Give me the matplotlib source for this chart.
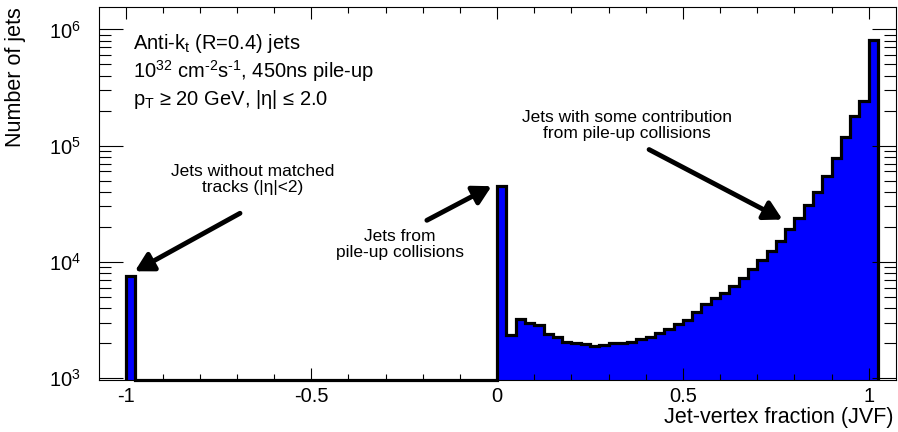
import matplotlib
matplotlib.use("Agg")
import matplotlib.pyplot as plt
import numpy as np
from matplotlib import font_manager
from matplotlib.ticker import MultipleLocator, LogLocator, FuncFormatter

# JVF histogram, bins of 0.025 from -1.0 to 1.025
jvf_min = -1.0
bin_width = 0.025
counts_neg = [7500] + [0] * 39          # bins -1.0 ... -0.025
counts_pos = [
    45000, 2340, 3200, 3000, 2860, 2400, 2240, 2060, 2010, 1960,
    1900, 1920, 1990, 2010, 2060, 2150, 2270, 2430, 2650, 2900,
    3180, 3700, 4330, 4900, 5420, 6180, 7200, 8650, 10350, 12400,
    15200, 19000, 23900, 30900, 40300, 55300, 78000, 119000, 179000, 241000,
    806000,
]                                       # bins 0.0 ... 1.0

info_lines = [
    r"Anti-k$_\mathregular{t}$ (R=0.4) jets",
    r"10$^\mathregular{32}$ cm$^{\text{-2}}$s$^{\text{-1}}$, 450ns pile-up",
    r"p$_\mathregular{T}$ ≥ 20 GeV, |η| ≤ 2.0",
]
note_no_tracks = "Jets without matched\ntracks (|η|<2)"
note_pileup = "Jets from\npile-up collisions"
note_some = "Jets with some contribution\nfrom pile-up collisions"

names = {f.name for f in font_manager.fontManager.ttflist}
base_font = "Liberation Sans" if "Liberation Sans" in names else "DejaVu Sans"

plt.rcParams["font.family"] = [base_font, "DejaVu Sans"]
plt.rcParams["mathtext.fontset"] = "custom"
plt.rcParams["mathtext.rm"] = base_font
plt.rcParams["mathtext.it"] = base_font + ":italic"
plt.rcParams["mathtext.bf"] = base_font + ":bold"
plt.rcParams["axes.unicode_minus"] = False

counts = np.array(counts_neg + counts_pos, dtype=float)
edges = jvf_min + bin_width * np.arange(len(counts) + 1)

y_lo, y_hi = 960, 1.55e6

fig = plt.figure(figsize=(8.98, 4.32), dpi=100)
ax = fig.add_axes([0.110, 0.120, 0.888, 0.863])

draw = np.clip(counts, y_lo, None)
ax.stairs(draw, edges, baseline=y_lo, fill=True, color="#0000ff", lw=0)
ax.stairs(draw, edges, baseline=y_lo, fill=False, color="black", lw=2.3,
          clip_on=False)

ax.set_yscale("log")
ax.set_xlim(-1.072, 1.074)
ax.set_ylim(y_lo, y_hi)

ax.xaxis.set_major_locator(MultipleLocator(0.5))
ax.xaxis.set_minor_locator(MultipleLocator(0.1))
ax.xaxis.set_major_formatter(FuncFormatter(lambda v, p: "%g" % v))
ax.yaxis.set_major_locator(LogLocator(base=10))
ax.yaxis.set_minor_locator(LogLocator(base=10, subs=np.arange(2, 10)))

ax.tick_params(which="both", direction="in", top=True, right=True, width=0.8)
ax.tick_params(axis="x", which="major", length=8.6, labelsize=14.5, pad=5)
ax.tick_params(axis="x", which="minor", length=4.3)
ax.tick_params(axis="y", which="major", length=17, labelsize=14.5, pad=13)
ax.tick_params(axis="y", which="minor", length=8.7)
for s in ax.spines.values():
    s.set_linewidth(0.8)

ax.set_ylabel("Number of jets", fontsize=15.5, loc="top")
ax.yaxis.set_label_coords(-0.091, 1.0)
ax.set_xlabel("Jet-vertex fraction (JVF)", fontsize=15.5, loc="right")
ax.xaxis.set_label_coords(0.997, -0.072)

for i, line in enumerate(info_lines):
    ax.text(0.043, 0.904 - 0.075 * i, line, transform=ax.transAxes,
            fontsize=14.5, ha="left", va="center")

arrow = dict(arrowstyle="-|>,head_length=0.9,head_width=0.5", lw=3.5,
             color="black", shrinkA=0, shrinkB=0, mutation_scale=12)

ax.text(-0.657, 51000, note_no_tracks, fontsize=12.5, ha="center", va="center",
        linespacing=1.1)
ax.annotate("", xy=(-0.975, 8300), xytext=(-0.692, 26200), arrowprops=arrow)

ax.text(-0.261, 14200, note_pileup, fontsize=12.5, ha="center", va="center",
        linespacing=1.1)
ax.annotate("", xy=(-0.015, 44800), xytext=(-0.189, 22800), arrowprops=arrow)

ax.text(0.3485, 149700, note_some, fontsize=12.5, ha="center", va="center",
        linespacing=1.1)
ax.annotate("", xy=(0.768, 23150), xytext=(0.409, 92600), arrowprops=arrow)

fig.savefig("out.png", dpi=100)
